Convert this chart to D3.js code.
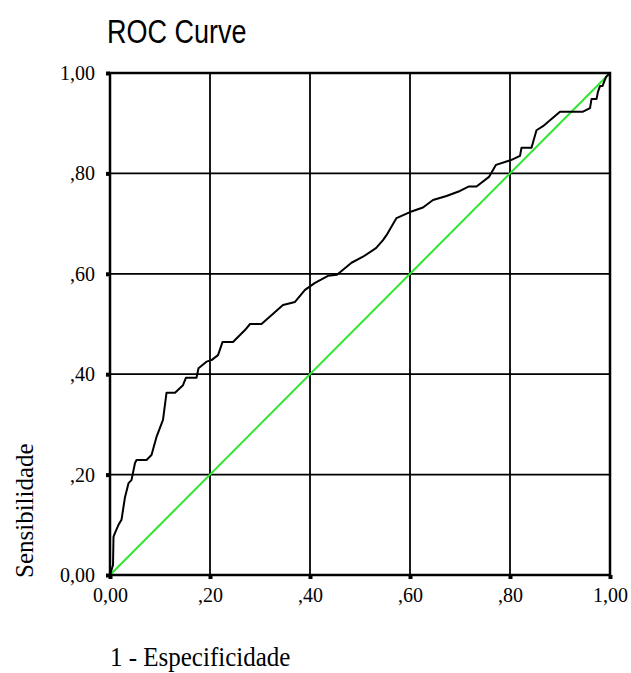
<!DOCTYPE html>
<html>
<head>
<meta charset="utf-8">
<script src="https://cdn.jsdelivr.net/npm/d3@7"></script>
<style>
  body { margin: 0; background: #fff; }
  .tick text { font-family: "Liberation Serif", "Times New Roman", serif; font-size: 20px; fill: #000; }
</style>
</head>
<body>
<script>
var width = 631,
    height = 673;

var margin = {top: 73, right: 21, bottom: 98, left: 110},
    graphWidth = width - margin.left - margin.right,
    graphHeight = height - margin.top - margin.bottom;

// ROC points (1 - specificity, sensitivity)
var fpr = [0, 0.006, 0.007, 0.010, 0.017, 0.023, 0.027, 0.030, 0.037, 0.043, 0.050, 0.053,
  0.073, 0.083, 0.093, 0.106, 0.113, 0.130, 0.146, 0.152, 0.173, 0.177, 0.193, 0.203,
  0.216, 0.225, 0.246, 0.270, 0.280, 0.303, 0.320, 0.346, 0.370, 0.390, 0.410, 0.436,
  0.454, 0.483, 0.506, 0.532, 0.546, 0.553, 0.573, 0.600, 0.626, 0.646, 0.673, 0.700,
  0.718, 0.733, 0.758, 0.772, 0.803, 0.820, 0.823, 0.843, 0.853, 0.866, 0.880, 0.900,
  0.946, 0.960, 0.963, 0.973, 0.976, 0.980, 0.985, 0.988, 0.992, 1];
var tpr = [0, 0.020, 0.076, 0.084, 0.100, 0.110, 0.136, 0.155, 0.183, 0.189, 0.223, 0.229,
  0.229, 0.239, 0.275, 0.309, 0.363, 0.363, 0.378, 0.393, 0.393, 0.412, 0.425, 0.428,
  0.438, 0.464, 0.464, 0.488, 0.500, 0.500, 0.515, 0.538, 0.544, 0.568, 0.582, 0.596,
  0.598, 0.622, 0.634, 0.651, 0.667, 0.677, 0.711, 0.723, 0.732, 0.747, 0.755, 0.765,
  0.774, 0.774, 0.793, 0.817, 0.827, 0.835, 0.851, 0.851, 0.886, 0.894, 0.906, 0.923,
  0.923, 0.930, 0.948, 0.948, 0.963, 0.974, 0.974, 0.982, 0.992, 1];

// reference line
var refLine = [0, 1];

var tickValues = [0, 0.2, 0.4, 0.6, 0.8, 1];
var tickLabels = ["0,00", ",20", ",40", ",60", ",80", "1,00"];
var gridValues = [0.2, 0.4, 0.6, 0.8];

var svg = d3.select("body").append("svg")
  .attr("width", width)
  .attr("height", height)
  .attr("id", "canvas");

var g = svg.append("g")
  .attr("transform", "translate(" + margin.left + "," + margin.top + ")");

var xScale = d3.scaleLinear().domain([0, 1]).range([0, graphWidth]);
var yScale = d3.scaleLinear().domain([0, 1]).range([graphHeight, 0]);

//grid
g.selectAll(".vgrid").data(gridValues).enter().append("line")
  .attr("x1", function(d){ return xScale(d); })
  .attr("x2", function(d){ return xScale(d); })
  .attr("y1", 0).attr("y2", graphHeight)
  .attr("stroke", "#000").attr("stroke-width", 1.8);
g.selectAll(".hgrid").data(gridValues).enter().append("line")
  .attr("y1", function(d){ return yScale(d); })
  .attr("y2", function(d){ return yScale(d); })
  .attr("x1", 0).attr("x2", graphWidth)
  .attr("stroke", "#000").attr("stroke-width", 1.8);

//diagonal
g.append("line")
  .attr("x1", xScale(refLine[0])).attr("y1", yScale(refLine[0]))
  .attr("x2", xScale(refLine[1])).attr("y2", yScale(refLine[1]))
  .attr("stroke", "#2ee62e").attr("stroke-width", 2);

//roc curve
var line = d3.line()
  .x(function(d){ return xScale(d[0]); })
  .y(function(d){ return yScale(d[1]); });
g.append("path")
  .datum(d3.zip(fpr, tpr))
  .attr("d", line)
  .attr("fill", "none")
  .attr("stroke", "#000")
  .attr("stroke-width", 2)
  .attr("stroke-linejoin", "round");

//frame
g.append("rect")
  .attr("width", graphWidth).attr("height", graphHeight)
  .attr("fill", "none").attr("stroke", "#000").attr("stroke-width", 2.5);

//axes
var fmt = function(d){ return tickLabels[tickValues.indexOf(d)]; };
var yAxis = g.append("g")
  .call(d3.axisLeft(yScale).tickValues(tickValues).tickFormat(fmt)
    .tickSizeInner(4).tickSizeOuter(0).tickPadding(11));
var xAxis = g.append("g")
  .attr("transform", "translate(0," + graphHeight + ")")
  .call(d3.axisBottom(xScale).tickValues(tickValues).tickFormat(fmt)
    .tickSizeInner(4).tickSizeOuter(0).tickPadding(9));
[xAxis, yAxis].forEach(function(a){
  a.select(".domain").remove();
  a.selectAll(".tick line").attr("stroke", "#000").attr("stroke-width", 4);
});

//titles
svg.append("text")
  .attr("transform", "translate(107,43) scale(1,1.2)")
  .style("font-family", "Liberation Sans, Arial, sans-serif")
  .style("font-size", "27px")
  .text("ROC Curve");
svg.append("text")
  .attr("transform", "translate(110,666) scale(1,1.08)")
  .style("font-family", "Liberation Serif, Times New Roman, serif")
  .style("font-size", "25px")
  .text("1 - Especificidade");
svg.append("text")
  .attr("transform", "translate(33,578) rotate(-90)")
  .style("font-family", "Liberation Serif, Times New Roman, serif")
  .style("font-size", "25px")
  .text("Sensibilidade");
</script>
</body>
</html>
